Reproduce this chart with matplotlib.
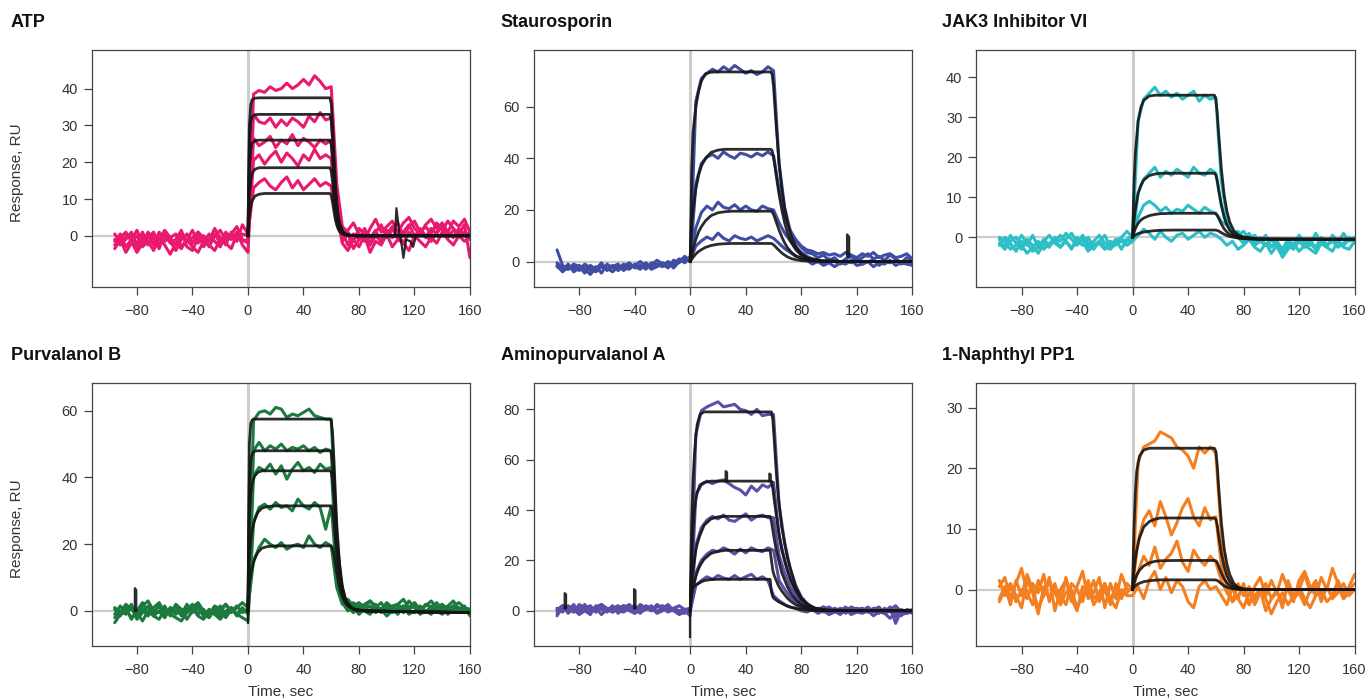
import matplotlib
matplotlib.use("Agg")
import matplotlib.pyplot as plt

# ---------------- data ----------------
time_s = list(range(-96, 161, 4))   # sampling times of the measured traces

titles = ["ATP", "Staurosporin", "JAK3 Inhibitor VI",
          "Purvalanol B", "Aminopurvalanol A", "1-Naphthyl PP1"]
colors = ["#e8196e", "#3f4ea3", "#2cbfc6", "#1d7a3f", "#5d4ea6", "#f47f21"]
x_ticks = [-80, -40, 0, 40, 80, 120, 160]
y_ticks = [[0, 10, 20, 30, 40], [0, 20, 40, 60], [0, 10, 20, 30, 40],
           [0, 20, 40, 60], [0, 20, 40, 60, 80], [0, 10, 20, 30]]

# ATP measured traces
atp_traces = [
    [-1.5, 0.5, -3.0, -1.0, 1.5, -2.0, -0.5, 1.0, -2.5, 0.0, -1.5, -4.0, -1.0, 0.5, -2.0, 1.0, -0.5, -3.0, 0.0, 1.5, -1.0, 0.5, 2.5, -1.0,
     -2.0,
     38.5, 39.5, 39.0, 40.5, 39.5, 40.0, 41.5, 40.0, 41.0, 42.5, 41.0, 43.5, 42.0, 40.0,
     40.5,
     14.0, 2.5, 1.0, -1.5, 2.0, 0.5, -2.0, 1.0, 3.0, -0.5, 1.5, 3.5, 0.0, 2.5, 4.0, 1.0, 2.5, 0.5, 3.5, 1.5, 4.0, 2.0, 0.5, 3.0, -6.0],
    [0.5, -2.0, -1.0, 1.0, -3.5, -0.5, 0.0, -2.5, 1.0, -1.5, -0.5, 0.5, -3.0, -1.0, 1.5, -2.0, 0.0, -1.5, 2.0, -0.5, -2.5, 1.0, -1.0, 0.5,
     0.0,
     33.0, 31.0, 30.5, 32.0, 29.5, 31.5, 30.0, 32.0, 31.0, 29.5, 32.5, 31.0, 33.5, 31.5,
     32.0,
     10.0, 1.0, -2.5, 0.5, -1.0, 2.0, -0.5, 1.5, -2.0, 0.5, 2.5, -1.0, 1.0, 3.0, 0.0, 1.5, -0.5, 2.0, 0.5, 3.0, 1.0, -0.5, 2.0, 0.0, 1.0],
    [-2.5, -0.5, 1.0, -1.5, -4.5, -2.0, 1.0, -1.0, -3.5, 0.5, -2.0, -1.0, 1.5, -3.0, -4.0, -0.5, -2.0, 0.5, -1.5, -3.0, 0.0, -1.0, 1.0, -2.5,
     -4.5,
     26.5, 24.5, 25.5, 27.0, 24.0, 26.0, 25.0, 27.5, 24.5, 26.5, 25.5, 24.0, 26.0, 25.0,
     26.0,
     8.0, -1.5, 0.5, -3.5, -1.0, 1.0, -2.5, 0.0, -1.5, 1.5, -0.5, 0.5, -2.0, 1.0, -1.0, 2.0, 0.0, -1.5, 1.0, 2.5, -0.5, 1.5, 0.0, 1.0, -1.0],
    [-3.5, -1.0, -4.5, -2.0, 0.0, -3.0, -1.5, -4.0, -0.5, -2.5, -5.0, -2.0, -3.5, -1.0, -3.0, -4.5, -1.5, -2.5, -4.0, -1.0, -2.0, -3.5, 0.5, -1.5,
     -1.0,
     20.5, 22.0, 19.5, 21.5, 23.0, 20.0, 22.5, 21.0, 19.0, 22.0, 20.5, 23.5, 21.0, 22.0,
     21.0,
     6.0, -2.0, -4.0, -1.0, -3.0, 0.0, -4.5, -1.5, -2.5, 0.5, -3.0, -1.0, -2.0, -4.0, 0.0, -1.5, -3.0, -0.5, -2.0, 1.0, -1.0, -2.5, 0.0, -1.5, -0.5],
    [-1.0, -2.5, 0.0, -0.5, -2.0, 1.0, -2.5, 0.0, -1.0, 1.5, -0.5, -2.5, 0.5, -1.5, -0.5, 1.0, -3.0, -1.0, 0.5, -2.0, 1.0, -0.5, -1.5, 3.0,
     0.5,
     13.0, 14.5, 15.5, 13.5, 12.5, 14.5, 16.0, 13.0, 15.0, 12.5, 14.0, 15.5, 13.5, 14.5,
     13.5,
     3.5, -0.5, 1.5, 3.5, 0.5, -1.5, 2.0, 4.5, 1.0, 2.5, 4.0, 1.0, 3.5, 5.0, 2.0, 0.5, 3.0, 4.5, 2.0, 3.5, 1.0, 4.0, 2.5, 4.5, 1.0],
]
atp_fit_t = [0, 1, 2, 3, 5, 8, 12, 20, 59, 60, 61, 62, 63, 64, 65, 66, 68, 70, 73, 78, 160]
atp_fits = [
    [0, 30.0, 35.5, 37.0, 37.4, 37.5, 37.5, 37.5, 37.5, 36.0, 30.0, 22.0, 14.5, 9.0, 5.5, 3.5, 1.5, 0.6, 0.2, 0.0, 0.0],
    [0, 25.5, 31.0, 32.4, 32.9, 33.0, 33.0, 33.0, 33.0, 31.5, 26.0, 19.0, 12.5, 8.0, 5.0, 3.2, 1.3, 0.5, 0.2, 0.0, 0.0],
    [0, 18.5, 23.5, 25.2, 25.9, 26.0, 26.0, 26.0, 26.0, 24.8, 20.5, 15.0, 10.0, 6.5, 4.0, 2.6, 1.1, 0.4, 0.1, 0.0, 0.0],
    [0, 11.0, 15.0, 17.0, 18.1, 18.5, 18.5, 18.5, 18.5, 17.6, 14.5, 10.5, 7.0, 4.6, 2.9, 1.9, 0.8, 0.3, 0.1, 0.0, 0.0],
    [0, 5.5, 8.0, 9.5, 10.8, 11.3, 11.5, 11.5, 11.5, 11.0, 9.0, 6.6, 4.4, 2.9, 1.8, 1.2, 0.5, 0.2, 0.1, 0.0, 0.0],
]
atp_spikes = [([104, 106, 107, 109, 111, 112, 114, 117, 119, 121],
               [0, 0.5, 7.5, 1.0, -3.0, -6.0, -1.0, -1.5, -3.0, 0])]

# Staurosporin
stauro_traces = [
    [4.5, -1.5, -3.0, -2.0, -3.5, -1.0, -2.5, -4.0, -2.0, -3.0, -1.5, -3.5, -2.0, -0.5, -2.5, -1.5, -3.0, -0.5, -1.0, -2.0, 0.0, -1.5, 0.5, 1.5,
     1.0,
     62.0, 71.0, 73.0, 74.5, 73.5, 75.5, 74.0, 76.0, 74.5, 73.0, 74.0, 72.5, 73.5, 75.5,
     74.0,
     38.0, 21.0, 12.0, 8.0, 5.5, 3.5, 3.0, 1.5, 2.5, 0.5, 1.5, -0.5, 1.0, 2.0, 0.0, 1.5, 3.0, 1.0, 2.0, 0.5, 2.5, 1.0, -0.5, 1.5, 0.5],
    [-2.0, -3.5, -1.0, -4.0, -2.5, -1.5, -3.5, -2.0, -4.5, -1.0, -2.5, -3.0, -1.0, -2.5, -1.5, 0.0, -2.0, -1.5, 0.5, -1.0, -2.5, 0.5, -0.5, 2.0,
     0.0,
     30.0, 38.0, 40.5, 41.5, 40.0, 42.5, 41.0, 40.0, 42.0, 41.5, 40.5, 42.0, 41.0, 42.5,
     41.0,
     28.0, 18.0, 12.0, 8.5, 6.0, 4.5, 4.0, 3.0, 3.5, 2.5, 3.0, 2.0, 3.5, 2.5, 1.5, 3.0, 2.0, 3.5, 1.5, 2.5, 3.0, 1.5, 2.0, 3.0, 1.0],
    [-0.5, -2.5, -3.0, -1.0, -2.0, -4.5, -1.5, -3.0, -0.5, -3.5, -2.0, -1.0, -3.5, -1.5, -2.0, -3.0, -0.5, -2.5, -1.5, -0.5, -2.0, -1.0, 1.0, -0.5,
     2.0,
     13.0, 19.0, 21.5, 20.0, 23.0, 21.0, 20.5, 22.0, 20.0, 21.5, 20.0, 19.5, 21.5, 20.5,
     20.0,
     15.0, 11.0, 8.0, 5.5, 3.5, 2.0, 1.0, 0.5, -0.5, 1.0, 0.0, -1.0, 0.5, -0.5, 1.0, -1.0, 0.0, 0.5, -1.5, 0.0, -0.5, 0.5, -1.0, 0.0, -0.5],
    [-1.5, -4.0, -2.0, -3.0, -1.5, -3.0, -5.0, -2.5, -1.5, -2.5, -4.0, -2.0, -2.5, -3.0, -1.0, -2.5, -1.0, -3.0, -2.0, -1.0, -0.5, -2.5, 0.0, 0.5,
     0.5,
     6.0, 8.0, 9.5, 8.5, 11.0, 9.0, 8.0, 10.0, 9.0, 8.5, 9.5, 8.0, 9.0, 10.0,
     9.0,
     7.0, 5.0, 3.5, 2.0, 1.5, 0.5, -1.0, 0.0, -1.5, -0.5, -2.0, -0.5, -1.0, 0.5, -1.5, -1.0, 0.0, -2.0, -0.5, -1.0, 0.5, -1.5, -0.5, -1.0, -1.5],
]
stauro_fit_t = [0, 1, 2, 4, 6, 8, 11, 15, 20, 25, 30, 57, 58, 59, 60, 61, 62, 64, 66, 68, 70, 73, 76, 80, 85, 95, 110, 160]
stauro_fits = [
    [0, 35, 50, 60, 66, 70, 72.8, 73.4, 73.5, 73.5, 73.5, 73.5, 73.5, 72.5, 68, 60, 52, 38, 28, 20.5, 15, 9.5, 6, 3, 1.3, 0.3, 0, 0],
    [0, 14, 20, 28, 33.5, 37, 40, 42.3, 43.2, 43.5, 43.5, 43.5, 43.5, 43, 40.5, 37, 33, 26, 20, 15, 11.2, 7.2, 4.6, 2.4, 1.0, 0.2, 0, 0],
    [0, 2.5, 5, 8.5, 11.5, 13.5, 15.8, 17.8, 18.9, 19.3, 19.5, 19.5, 19.5, 19.3, 18.2, 16.8, 15.2, 12.2, 9.5, 7.2, 5.4, 3.5, 2.2, 1.1, 0.5, 0.1, 0, 0],
    [0, 0.8, 1.6, 2.9, 3.9, 4.6, 5.5, 6.2, 6.7, 6.9, 7.0, 7.0, 7.0, 6.9, 6.5, 6.0, 5.4, 4.3, 3.3, 2.5, 1.8, 1.1, 0.7, 0.35, 0.15, 0.05, 0, 0],
]
stauro_spikes = [([113, 113, 114.5, 114.5], [2, 10.5, 9.5, 2])]

# JAK3 Inhibitor VI
jak3_traces = [
    [-0.5, -2.5, 0.5, -1.5, -3.0, -0.5, -2.0, -4.0, -1.5, -2.5, 0.0, -1.0, 1.0, -0.5, -2.0, 0.5, -1.5, -3.0, -1.0, 0.5, -2.5, -1.0, 0.0, 1.5,
     0.0,
     29.0, 34.5, 36.0, 37.5, 35.5, 36.5, 35.0, 36.0, 34.5, 35.5, 36.5, 34.0, 35.5, 34.5,
     35.0,
     14.0, 5.0, 1.5, 0.0, -1.5, 0.5, -2.0, -1.0, 0.5, -2.5, -1.0, -3.0, -0.5, -2.0, 0.5, -1.5, -1.0, -2.5, 0.0, -2.0, -0.5, -1.5, 1.0, -1.0, -0.5],
    [-2.0, 0.0, -1.5, -3.5, -1.0, -2.0, 0.5, -2.5, -1.0, 0.5, -1.5, -2.5, -0.5, 1.0, -1.0, -2.0, 0.0, -2.5, -1.5, -3.0, -1.0, -2.0, -0.5, -1.0,
     -0.5,
     11.0, 14.5, 16.0, 17.5, 15.0, 16.5, 15.5, 17.0, 16.0, 15.0, 17.5, 16.0, 15.5, 17.0,
     16.0,
     8.0, 3.5, 1.0, 1.5, -0.5, 1.0, -1.5, 0.0, -2.0, -0.5, -1.5, -3.5, -1.0, -2.5, 0.0, -1.5, -2.0, 1.0, -1.5, -2.5, 0.5, -1.0, -2.0, -0.5, 0.0],
    [0.0, -1.0, -3.0, -2.0, 0.5, -1.5, -3.5, -2.5, -0.5, -2.0, -1.0, 0.5, -1.0, -2.5, -1.5, 0.0, -2.5, -1.0, 0.5, -1.5, -2.0, -0.5, -3.0, -0.5,
     0.5,
     5.0, 8.0, 9.0, 8.0, 6.5, 7.5, 6.0, 7.0, 6.5, 8.0, 7.0, 6.0, 7.5, 6.5,
     6.0,
     4.0, 3.0, 1.5, 0.5, 1.5, -0.5, 0.5, -1.0, -2.0, -0.5, -2.5, -4.5, -2.0, -3.0, -1.0, -2.5, -1.5, -3.0, -0.5, -2.0, -1.0, -2.5, -1.5, 0.0, -1.5],
    [-1.5, -3.0, -1.0, 0.0, -2.0, -4.0, -2.5, -1.0, -3.0, -1.5, -0.5, -2.5, -1.0, -3.0, 0.0, -1.0, -3.5, -2.0, -1.0, -2.5, -3.0, -1.5, -1.0, -2.0,
     -1.0,
     0.5, 2.0, 1.0, -0.5, 1.5, 0.0, -1.0, 0.5, 1.0, -0.5, 0.5, 1.5, 0.0, 1.0,
     0.5,
     -0.5, -2.0, -1.0, -3.0, -2.0, -0.5, -2.5, -3.5, -1.5, -4.0, -2.0, -5.0, -3.0, -1.5, -3.5, -2.0, -3.0, -4.0, -1.5, -2.5, -3.5, -1.0, -2.5, -3.0, -1.0],
]
jak3_fit_t = [0, 1, 2, 4, 6, 8, 12, 16, 20, 30, 59, 60, 61, 62, 64, 66, 68, 70, 73, 76, 80, 90, 160]
jak3_fits = [
    [0, 13, 21, 29, 32.5, 34.2, 35.3, 35.5, 35.5, 35.5, 35.5, 34.5, 31, 26, 17, 10.5, 6.5, 3.8, 1.6, 0.6, 0.1, -0.4, -0.5],
    [0, 4, 7, 11, 13, 14.3, 15.4, 15.8, 16, 16, 16, 15.6, 14.2, 12, 8, 5, 3.1, 1.8, 0.7, 0.2, -0.1, -0.4, -0.5],
    [0, 1.2, 2.2, 3.5, 4.3, 4.8, 5.4, 5.7, 5.9, 6, 6, 5.9, 5.5, 4.8, 3.3, 2.1, 1.3, 0.7, 0.2, -0.1, -0.3, -0.5, -0.5],
    [0, 0.3, 0.6, 0.9, 1.1, 1.3, 1.5, 1.65, 1.75, 1.8, 1.8, 1.78, 1.7, 1.55, 1.15, 0.75, 0.45, 0.2, 0, -0.2, -0.35, -0.5, -0.5],
]
jak3_spikes = []

# Purvalanol B
purb_traces = [
    [-1.0, 1.5, -0.5, 2.0, -2.0, 0.5, -1.5, 1.0, 2.5, -0.5, 0.0, 1.5, -1.5, 0.5, 2.0, -1.0, 0.5, -2.0, 1.0, -0.5, 2.0, 0.0, 1.5, -0.5,
     0.5,
     57.0, 59.5, 60.0, 59.0, 61.0, 60.5, 58.0, 59.0, 58.5, 59.5, 60.5, 58.5, 58.0, 57.5,
     57.5,
     22.0, 5.0, 1.5, 2.5, 0.5, 2.0, 3.0, 1.0, 2.5, 0.0, 1.5, 2.0, 0.5, 3.0, 1.0, 0.0, 2.0, 1.0, 2.5, 0.5, 1.5, 3.0, 0.5, 1.5, -1.5],
    [0.5, -1.5, 1.0, -2.5, 0.0, 2.5, -1.0, -0.5, 1.5, -2.0, 1.0, 0.0, -1.0, 2.0, -0.5, 1.0, -1.5, 0.5, -1.0, 1.5, -2.0, 0.5, -1.0, 1.0,
     -1.0,
     48.0, 50.5, 48.0, 49.5, 48.5, 50.0, 48.0, 49.0, 48.5, 49.5, 48.0, 49.0, 47.5, 48.5,
     48.0,
     17.0, 3.5, 0.5, 1.5, -0.5, 1.0, 0.0, 2.0, -0.5, 1.0, 0.5, -1.0, 1.5, 0.0, -0.5, 1.5, 0.0, -1.0, 1.0, -0.5, 0.5, 1.5, -0.5, 0.5, 0.0],
    [-2.0, 0.0, -1.0, 1.0, -2.5, -0.5, 1.5, -1.5, 0.0, -2.0, 1.0, -1.0, 0.5, -2.5, 0.0, 1.5, -1.0, -2.0, 0.5, -1.5, 0.0, 1.0, -1.5, 0.5,
     0.0,
     40.5, 43.0, 42.0, 44.0, 41.0, 43.5, 39.5, 42.5, 44.5, 42.0, 43.0, 41.5, 44.0, 42.5,
     43.0,
     15.0, 3.0, 1.0, -0.5, 1.5, 0.0, -1.0, 1.0, 0.5, -1.5, 0.0, 1.0, -0.5, 0.5, 1.5, -1.0, 0.0, 0.5, -0.5, 1.0, -1.0, 0.5, 0.0, -0.5, 0.5],
    [-3.5, -1.0, 0.5, -2.0, -0.5, -3.0, 0.0, -1.5, -2.5, 0.5, -1.0, -2.0, -3.0, -0.5, 1.0, -1.5, -2.5, 0.0, -1.0, -2.5, -0.5, 1.0, -1.0, -2.0,
     -3.0,
     26.5, 31.0, 32.0, 30.5, 32.5, 31.0, 31.5, 30.0, 33.5, 31.5, 30.5, 32.5, 31.0, 24.5,
     31.5,
     11.0, 2.5, 0.0, 1.0, -1.0, 0.5, 1.5, -0.5, 0.5, 2.0, -0.5, 0.5, 1.5, -1.0, 0.0, 1.0, -0.5, 1.5, 0.0, -1.0, 0.5, -0.5, 1.0, 0.0, -1.0],
    [1.0, -0.5, 2.0, 0.5, -1.0, 1.5, 3.0, 0.0, -0.5, 1.5, -1.5, 2.0, 0.5, -0.5, 1.0, 2.5, 0.0, -1.0, 1.5, 0.5, 2.0, -0.5, 1.0, 2.5,
     1.0,
     15.0, 19.0, 21.5, 20.0, 19.0, 20.5, 18.5, 19.5, 20.0, 19.0, 22.5, 20.0, 19.0, 20.5,
     19.5,
     7.0, 2.0, 3.5, 1.5, 2.5, 1.0, 3.0, 1.5, 0.5, 2.5, 1.0, 2.0, 3.5, 1.0, 2.5, 0.5, 1.5, 3.0, 1.0, 2.0, 0.5, 1.5, 2.5, 1.0, 0.5],
]
purb_fit_t = [0, 1, 2, 3, 4, 5, 7, 10, 14, 20, 30, 59, 60, 61, 62, 63, 64, 66, 68, 70, 72, 75, 78, 85, 160]
purb_fits = [
    [0, 50, 56, 57.2, 57.5, 57.5, 57.5, 57.5, 57.5, 57.5, 57.5, 57.5, 57, 53, 45, 35, 26, 14, 7.5, 4, 2.2, 0.9, 0.4, 0.0, -0.5],
    [0, 38, 45, 47, 47.6, 47.9, 48, 48, 48, 48, 48, 48, 47.6, 44.5, 38, 30, 22.5, 12.5, 6.8, 3.7, 2, 0.8, 0.3, 0, -0.5],
    [0, 28, 35, 38, 39.5, 40.5, 41.5, 42, 42, 42, 42, 42, 41.7, 39.5, 34, 27, 20.5, 11.8, 6.6, 3.7, 2.1, 0.9, 0.35, 0, -0.5],
    [0, 16, 21, 24, 26, 27.5, 29.5, 30.8, 31.3, 31.5, 31.5, 31.5, 31.3, 30, 26.5, 21.5, 16.8, 10, 5.8, 3.3, 1.9, 0.8, 0.3, 0, -0.5],
    [0, 8, 11, 13, 14.5, 15.7, 17.5, 18.8, 19.3, 19.5, 19.5, 19.5, 19.4, 18.7, 16.8, 14, 11.2, 7, 4.2, 2.5, 1.5, 0.65, 0.25, 0, -0.5],
]
purb_spikes = [([-81.5, -81.5, -80.5, -80.5], [0, 6.8, 6.3, 0]), ([0, 0], [-3.6, 0])]

# Aminopurvalanol A
amino_traces = [
    [-2.0, 1.5, 0.0, 2.5, -1.0, 1.0, 2.0, -0.5, 1.5, 0.0, 2.0, -1.0, 1.0, 2.5, 0.5, -1.0, 1.5, 0.0, 2.5, 1.0, -0.5, 0.5, -1.0, 0.0,
     -2.0,
     70.0, 79.5, 81.0, 82.0, 83.0, 81.0, 81.5, 82.0, 80.0, 79.5, 78.0, 80.0, 77.5, 78.0,
     78.0,
     42.0, 27.0, 17.0, 10.0, 5.5, 3.0, 1.5, 0.5, 1.5, -0.5, 1.0, 0.0, 1.5, -1.0, 0.5, 1.0, -0.5, 0.5, 1.5, -1.0, 0.5, 2.0, -0.5, 0.0, -1.0],
    [1.0, -0.5, 2.0, 0.5, -1.5, 0.0, 1.5, -0.5, 2.5, 1.0, -0.5, 0.5, 2.0, 0.0, -1.0, 1.5, 0.5, 2.0, -0.5, 1.0, 2.5, 0.0, -1.5, -0.5,
     -1.0,
     46.0, 50.0, 51.5, 50.5, 51.5, 52.0, 50.5, 49.0, 48.0, 46.0, 49.5, 47.5, 50.0, 49.0,
     51.0,
     30.0, 20.0, 12.5, 8.0, 4.5, 2.5, 1.0, 0.0, 1.5, 0.5, -0.5, 1.0, 0.0, 1.5, 0.5, -0.5, 1.0, 0.0, -1.0, 1.0, -0.5, 0.5, -2.0, 0.5, 0.0],
    [0.0, 2.0, -1.0, 1.0, 0.5, 2.5, -0.5, 1.0, -1.5, 0.5, 1.5, 0.0, -0.5, 1.0, 2.0, -0.5, 0.5, 1.5, -1.0, 0.0, 1.5, 0.5, 0.0, -1.0,
     0.0,
     26.0, 33.0, 36.0, 37.5, 36.5, 38.0, 36.0, 35.5, 37.0, 38.5, 36.0, 37.5, 38.0, 37.0,
     37.0,
     22.0, 15.0, 9.5, 6.0, 3.5, 2.0, 0.5, 1.0, -0.5, 1.0, 0.0, -1.5, 0.5, 1.0, -0.5, 0.0, 1.5, -0.5, 0.5, -1.0, 0.0, -2.5, 0.5, -0.5, 0.0],
    [-1.0, 0.5, 1.5, -0.5, 1.0, 0.0, -1.5, 2.0, 0.5, -0.5, 1.0, 2.0, 0.0, 1.5, -1.0, 0.5, 2.0, 1.0, -0.5, 1.5, 0.0, 1.0, 2.0, 0.5,
     1.0,
     15.0, 20.0, 22.5, 24.0, 23.5, 25.0, 24.0, 22.5, 24.5, 23.0, 25.0, 24.0, 23.5, 25.0,
     24.0,
     12.0, 8.5, 5.5, 3.5, 2.0, 1.0, 0.5, -0.5, 0.5, 1.5, 0.0, 0.5, -1.0, 0.5, 1.0, 0.0, -0.5, 1.0, 0.5, -0.5, 1.5, -5.0, 0.0, -1.0, 0.5],
    [0.5, 2.0, 1.0, -0.5, 2.5, 1.0, 0.0, 1.5, 2.5, 0.5, -0.5, 1.0, 2.0, 1.5, 0.0, 2.5, 1.0, 0.0, 1.5, 2.0, 0.5, 1.0, 0.0, 0.5,
     0.0,
     10.0, 12.0, 13.5, 12.5, 14.0, 13.0, 12.5, 14.0, 12.5, 13.5, 14.5, 12.5, 13.5, 12.0,
     6.0,
     4.0, 2.5, 1.5, 1.0, 0.0, -0.5, 0.5, -1.0, 0.0, -1.5, -0.5, -1.0, 0.5, -1.5, -0.5, -1.0, 0.0, -2.0, -0.5, -1.0, -3.0, -0.5, -1.5, -1.0, -0.5],
]
amino_fit_t = [0, 0.5, 1, 2, 3, 4, 5, 7, 10, 15, 20, 25, 57.5, 58.5, 59.5, 60.5, 62, 63.5, 66, 70, 73, 76, 80, 85, 90, 100, 160]
amino_fits = [
    [0, 20, 35, 52, 62, 69, 74, 78, 79, 79, 79, 79, 79, 79, 76, 68, 55, 45, 33, 21, 15, 9.5, 5, 2.3, 0.9, 0.2, 0],
    [0, 12, 20, 32, 40, 44, 47, 50, 51, 51.5, 51.5, 51.5, 51.5, 51.5, 48.5, 44, 38, 32, 24, 16, 11.5, 8, 4.5, 2.2, 1.0, 0.2, 0],
    [0, 6, 10, 16, 20.5, 24, 26.5, 30, 34, 36.5, 37.3, 37.5, 37.5, 35.5, 32, 28.5, 24, 20.5, 15, 9.5, 6.5, 4.5, 2.5, 1.2, 0.6, 0.1, 0],
    [0, 4, 6, 9, 11.5, 13.5, 15.3, 18, 20.5, 22.8, 23.6, 24, 24, 20, 16, 14, 12, 10, 7.8, 5, 3.5, 2.4, 1.3, 0.6, 0.3, 0.05, 0],
    [0, 7, 8.5, 9.2, 9.8, 10.2, 10.6, 11.2, 12, 12.4, 12.5, 12.5, 12.5, 7.5, 5.5, 4.8, 4.2, 3.6, 2.9, 1.8, 1.3, 0.9, 0.5, 0.2, 0.1, 0, 0],
]
amino_spikes = [([-90.5, -90.5, -89.5, -89.5], [1, 7.0, 6.5, 1]),
                ([-40.5, -40.5, -39.5, -39.5], [1, 8.6, 8.0, 1]),
                ([25.5, 25.5, 26.5, 26.5], [51.5, 55.5, 55.0, 51.5]),
                ([57.0, 57.0, 58.0, 58.0], [51.5, 54.5, 54.0, 51.5]),
                ([0, 0], [-10.5, 0])]

# 1-Naphthyl PP1
naph_traces = [
    [0.5, 2.0, -1.5, 1.0, 3.5, -0.5, -2.5, 1.5, -1.0, 2.0, -3.5, 0.0, 1.5, -2.0, 0.5, 3.0, -1.5, -0.5, 2.0, -3.0, 1.0, -1.5, 2.5, 0.0,
     0.0,
     21.0, 23.5, 24.0, 24.5, 26.0, 25.5, 25.0, 23.5, 23.0, 22.0, 20.0, 23.5, 22.5, 23.5,
     22.5,
     9.0, 2.5, 0.0, -1.5, 1.0, -2.5, 0.5, 2.0, -1.0, 1.5, -0.5, 2.5, 0.0, -2.0, 1.5, 3.0, 0.5, -1.0, 2.0, 0.0, 3.5, 1.0, -1.5, 0.5, 2.5],
    [-1.5, 0.5, -2.5, 1.5, -1.0, 2.5, 0.0, -3.0, -1.0, 1.5, -0.5, -2.5, 2.0, -1.5, -3.5, 0.5, -1.0, 1.5, -2.0, 0.0, -2.5, 1.0, -1.0, -0.5,
     0.5,
     8.0, 11.5, 13.0, 10.5, 14.5, 12.0, 9.0, 11.0, 13.5, 15.0, 12.0, 10.5, 13.5, 11.5,
     12.0,
     4.0, 0.5, -2.0, 1.0, -1.0, 0.5, -2.5, -0.5, 1.0, -1.5, 0.0, -3.0, 1.5, -1.0, 0.0, 2.5, -0.5, 1.0, -2.0, 0.5, -1.0, 1.5, -0.5, 0.0, 1.0],
    [1.5, -1.0, 0.5, -2.0, 0.0, -1.5, 1.0, -0.5, 2.5, -2.0, 0.5, -1.0, -2.5, 1.0, 0.0, -2.0, 1.5, -1.5, -0.5, 1.0, -2.0, 0.5, -1.5, 1.0,
     0.0,
     3.0, 5.5, 4.0, 7.0, 3.5, 5.0, 6.0, 8.0, 4.5, 3.0, 6.5, 5.0, 4.0, 5.5,
     4.5,
     1.5, -0.5, -2.0, -1.0, 0.5, -2.5, -1.0, 0.0, -3.5, -1.5, -0.5, -2.0, 0.5, -1.5, -0.5, -2.5, 0.0, 1.5, -1.0, 0.5, -1.5, -0.5, 1.0, -1.0, 0.0],
    [-2.0, 0.0, 1.0, -1.0, -3.0, 1.5, -0.5, -4.0, 0.5, -1.5, 1.0, -2.5, -0.5, 0.0, -3.0, -1.0, 0.5, -2.5, -1.0, 1.0, -1.5, -3.0, 0.0, -1.0,
     -1.0,
     0.5, -1.5, 1.5, 3.0, 0.0, 2.0, -0.5, 1.5, 0.5, -2.0, -3.0, 0.5, 1.5, 0.0,
     0.5,
     -1.0, -2.5, 0.5, -1.5, -3.0, -0.5, -2.0, 0.0, -1.5, -4.0, -2.0, -0.5, -2.5, -1.0, 0.5, -1.5, -3.0, -1.0, 0.0, -2.0, -1.0, 0.5, -1.5, -0.5, 0.0],
]
naph_fit_t = [0, 1, 2, 3, 5, 8, 12, 16, 20, 30, 59, 60, 61, 62, 64, 66, 68, 70, 73, 76, 80, 90, 160]
naph_fits = [
    [0, 10, 16, 19.5, 22, 23, 23.3, 23.3, 23.3, 23.3, 23.3, 22.8, 20.5, 17, 11, 6.8, 4.2, 2.5, 1.0, 0.4, 0.1, 0, 0],
    [0, 3, 5, 6.5, 8.5, 10.3, 11.2, 11.6, 11.8, 11.8, 11.8, 11.6, 10.6, 9, 6, 3.8, 2.3, 1.4, 0.6, 0.2, 0.05, 0, 0],
    [0, 1, 1.8, 2.4, 3.2, 3.9, 4.4, 4.65, 4.75, 4.8, 4.8, 4.75, 4.45, 3.9, 2.7, 1.75, 1.1, 0.65, 0.3, 0.1, 0.02, 0, 0],
    [0, 0.35, 0.6, 0.8, 1.05, 1.3, 1.45, 1.55, 1.6, 1.6, 1.6, 1.58, 1.5, 1.35, 0.95, 0.62, 0.4, 0.24, 0.1, 0.04, 0, 0, 0],
]
naph_spikes = []

panel_traces = [atp_traces, stauro_traces, jak3_traces, purb_traces, amino_traces, naph_traces]
panel_fit_t = [atp_fit_t, stauro_fit_t, jak3_fit_t, purb_fit_t, amino_fit_t, naph_fit_t]
panel_fits = [atp_fits, stauro_fits, jak3_fits, purb_fits, amino_fits, naph_fits]
panel_spikes = [atp_spikes, stauro_spikes, jak3_spikes, purb_spikes, amino_spikes, naph_spikes]

# ---------------- layout / style ----------------
y_limits = [(-14, 50.5), (-10, 82), (-12.5, 46.8), (-10.5, 68.4), (-14, 90.6), (-9.3, 34.1)]
x_limits = (-112.6, 160)

W, H = 1369, 700
col_left = [91.7, 534.0, 976.3]
col_w = 378.3
row_top = [50.0, 382.7]
row_h = [237.3, 263.3]
title_x = [11, 500.5, 942.5]
title_y = [22.7, 356.0]

TXT = "#333333"
plt.rcParams["font.family"] = ["Liberation Sans", "DejaVu Sans"]

fig = plt.figure(figsize=(W / 100, H / 100), dpi=100)

for i in range(6):
    r, c = divmod(i, 3)
    ax = fig.add_axes([col_left[c] / W, 1 - (row_top[r] + row_h[r]) / H, col_w / W, row_h[r] / H])
    ax.axhline(0, color="#cdcdcd", lw=1.6, zorder=0.5)
    ax.axvline(0, color="#cdcdcd", lw=2.2, zorder=0.5)

    for tr in panel_traces[i]:
        n = min(len(time_s), len(tr))
        ax.plot(time_s[:n], tr[:n], color=colors[i], lw=2.2, zorder=2,
                solid_joinstyle="round", solid_capstyle="round")
    for ft in panel_fits[i]:
        n = min(len(panel_fit_t[i]), len(ft))
        ax.plot(panel_fit_t[i][:n], ft[:n], color="#151515", lw=2.0, alpha=0.9, zorder=3,
                solid_joinstyle="round")
    for st, sy in panel_spikes[i]:
        ax.plot(st, sy, color="#151515", lw=1.6, alpha=0.9, zorder=3)

    ax.set_xlim(*x_limits)
    ax.set_ylim(*y_limits[i])
    ax.set_xticks(x_ticks)
    ax.set_xticklabels(["\u2212" + str(-v) if v < 0 else str(v) for v in x_ticks])
    ax.set_yticks(y_ticks[i])
    ax.tick_params(direction="out", length=6, width=0.9, color="#444444",
                   labelcolor=TXT, labelsize=10.5)
    ax.tick_params(axis="x", pad=6)
    ax.tick_params(axis="y", pad=4)
    for sp in ax.spines.values():
        sp.set_color("#444444")
        sp.set_linewidth(0.9)

    if c == 0:
        ax.set_ylabel("Response, RU", fontsize=11, color=TXT)
        ax.yaxis.set_label_coords(-0.180, 0.483 if r == 0 else 0.447)
    if r == 1:
        ax.set_xlabel("Time, sec", fontsize=11, color=TXT)
        ax.xaxis.set_label_coords(0.5, -0.1736)
        ax.xaxis.label.set_verticalalignment("center")

    fig.text(title_x[c] / W, 1 - title_y[r] / H, titles[i], fontsize=13,
             fontweight="bold", color="#111111", ha="left", va="center")

fig.savefig("out.png", dpi=100)
